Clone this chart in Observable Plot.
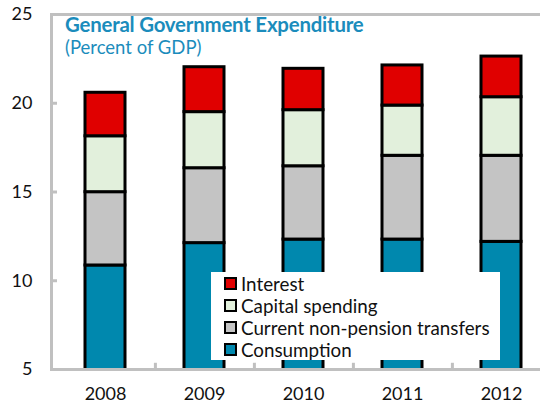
<!DOCTYPE html>
<html><head><meta charset="utf-8">
<script src="https://cdn.jsdelivr.net/npm/d3@7"></script>
<script src="https://cdn.jsdelivr.net/npm/@observablehq/plot@0.6"></script>
<style>
html,body{margin:0;padding:0;background:#fff;overflow:hidden;width:540px;height:409px;}
#wrap{position:relative;width:540px;height:409px;font-family:Lato,"Open Sans",sans-serif;}
#title{position:absolute;left:65px;top:12px;color:#1b8cbc;font-weight:bold;font-size:20.4px;letter-spacing:-0.2px;}
#sub{position:absolute;left:65px;top:36px;color:#1b8cbc;font-size:18.5px;}
#legend{position:absolute;left:211px;top:272px;width:289px;height:88px;background:#fff;}
.li{position:absolute;left:13px;height:22px;display:flex;align-items:center;font-size:18.8px;color:#111;}
.sw{width:9px;height:9px;border:2.5px solid #000;margin-right:4px;}
</style></head>
<body><div id="wrap"></div>
<script>
const years = ["2008","2009","2010","2011","2012"];
const series = ["Consumption","Current non-pension transfers","Capital spending","Interest"];
const consumption = [10.86, 12.12, 12.32, 12.32, 12.19];
const transfers   = [4.13, 4.22, 4.13, 4.72, 4.85];
const capital     = [3.15, 3.16, 3.16, 2.83, 3.30];
const interest    = [2.45, 2.53, 2.33, 2.26, 2.29];
const colors = ["#0088ae","#c4c4c4","#e2f0dc","#e00000"];
const yTicks = [5,10,15,20,25];
const legendOrder = ["Interest","Capital spending","Current non-pension transfers","Consumption"];

const vals = [consumption, transfers, capital, interest];
const data = [];
years.forEach((y,i)=>series.forEach((s,j)=>data.push({year:y, series:s, value:vals[j][i]})));

const chart = Plot.plot({
  width: 540, height: 409,
  marginTop: 14, marginBottom: 40, marginLeft: 51, marginRight: 0,
  style: {fontFamily: "Lato, 'Open Sans', sans-serif", fontSize: "18px", color: "#111", background: "#fff"},
  x: {domain: years, range: [53, 552], paddingInner: 0.6, paddingOuter: 0.3, label: null},
  y: {domain: [5, 25], label: null},
  color: {domain: series, range: colors},
  marks: [
    Plot.barY(data, Plot.stackY({x: "year", y: "value", fill: "series", order: null,
      stroke: "#000", strokeWidth: 3, clip: true})),
    Plot.frame({anchor: "left", stroke: "#c0c0c0", strokeWidth: 3}),
    Plot.frame({anchor: "top", stroke: "#c0c0c0", strokeWidth: 3}),
    Plot.frame({anchor: "bottom", stroke: "#c0c0c0", strokeWidth: 3}),
    Plot.axisY({ticks: yTicks, tickSize: 6, dx: 6, text: null, stroke: "#c0c0c0", strokeWidth: 3}),
    Plot.axisY({ticks: yTicks, tickSize: 0, tickPadding: 19, fontSize: 18, tickFormat: d=>String(d)}),
    Plot.ruleX(years.slice(0,4), {x: d=>d, dx: 49.9, y1: 5, y2: 5.35, stroke: "#c0c0c0", strokeWidth: 3}),
    Plot.axisX({tickSize: 0, tickPadding: 18, fontSize: 18, label: null})
  ]
});
const wrap = document.getElementById("wrap");
wrap.appendChild(chart);
const t = document.createElement("div"); t.id="title"; t.textContent="General Government Expenditure"; wrap.appendChild(t);
const s2 = document.createElement("div"); s2.id="sub"; s2.textContent="(Percent of GDP)"; wrap.appendChild(s2);
const lg = document.createElement("div"); lg.id="legend"; wrap.appendChild(lg);
legendOrder.forEach((name,i)=>{
  const it = document.createElement("div"); it.className="li"; it.style.top=(i*22)+"px";
  const sw = document.createElement("div"); sw.className="sw"; sw.style.background = colors[series.indexOf(name)];
  const tx = document.createElement("span"); tx.textContent = name;
  it.appendChild(sw); it.appendChild(tx); lg.appendChild(it);
});
</script></body></html>
